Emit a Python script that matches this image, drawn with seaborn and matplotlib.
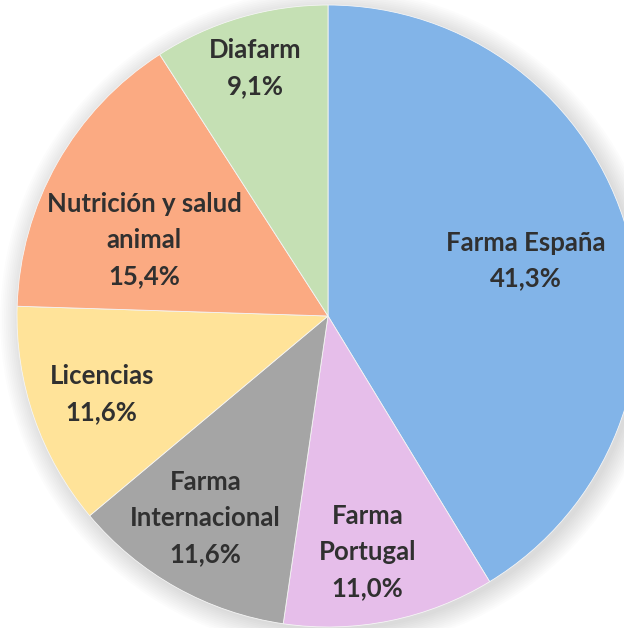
import numpy as np
import matplotlib
matplotlib.use("Agg")
import matplotlib.pyplot as plt
import seaborn as sns
from matplotlib.patches import Circle

# data
segments = ["Farma España", "Farma\nPortugal", "Farma\nInternacional", "Licencias",
            "Nutrición y salud\nanimal", "Diafarm"]
shares = [41.3, 11.0, 11.6, 11.6, 15.4, 9.1]
share_labels = ["41,3%", "11,0%", "11,6%", "11,6%", "15,4%", "9,1%"]

colors = ["#82B4E8", "#E6BEEA", "#A5A5A5", "#FFE399", "#FBAA82", "#C5E0B4"]
# label placement: (distance from centre, angle tweak in degrees)
label_dist = [0.66, 0.77, 0.76, 0.77, 0.64, 0.83]
label_rot = [0, -2, -2, 0, 7, 0]

sns.set_theme(style="white")
plt.rcParams['font.family'] = ['Lato', 'DejaVu Sans']

W, H = 624, 628
fig = plt.figure(figsize=(W / 100, H / 100), dpi=100)
ax = fig.add_axes([0, 0, 1, 1])

# soft shadow behind the pie
for i in range(12):
    ax.add_patch(Circle((0.012, -0.012), 1.0 + i * 0.006, color="black",
                        alpha=0.012, lw=0, zorder=0))
ax.add_patch(Circle((0, 0), 1.0, color="white", lw=0, zorder=0.5))

wedges, _ = ax.pie(shares, colors=sns.color_palette(colors), startangle=90,
                   counterclock=False, radius=1.0,
                   wedgeprops=dict(linewidth=0.6, edgecolor="#F4F4F4"))

for w, name, pct, d, rot in zip(wedges, segments, share_labels, label_dist, label_rot):
    ang = np.deg2rad((w.theta1 + w.theta2) / 2 + rot)
    ax.text(d * np.cos(ang), d * np.sin(ang), name + "\n" + pct,
            ha="center", va="center", fontsize=18.5, fontweight="bold",
            color="#303030", linespacing=1.6)

scale = 311.0
cx, cy = 328, 316
ax.set_aspect("auto")
ax.set_xlim(-cx / scale, (W - cx) / scale)
ax.set_ylim(-(H - cy) / scale, cy / scale)
ax.axis("off")

plt.savefig("out.png", dpi=100)
